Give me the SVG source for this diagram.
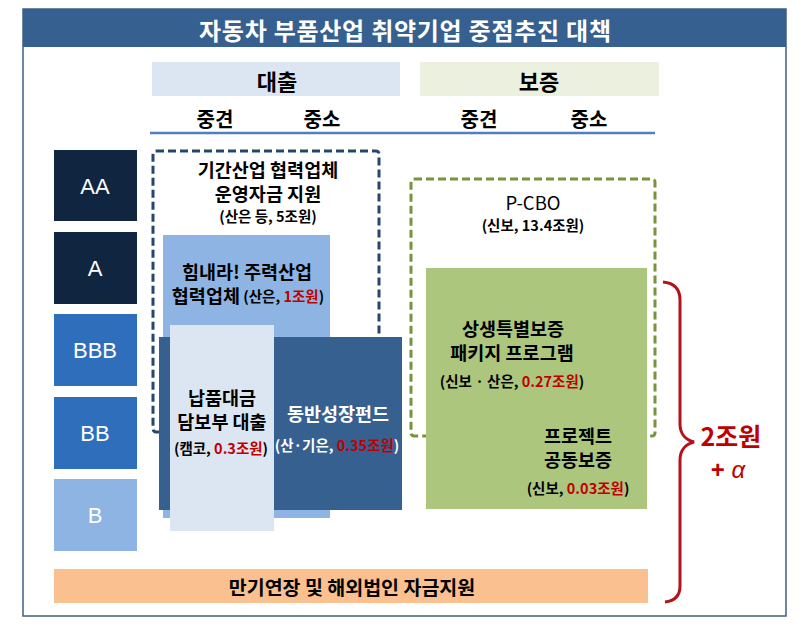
<svg xmlns="http://www.w3.org/2000/svg" width="806" height="638" viewBox="0 0 806 638">
<style>
text{font-family:"Noto Sans CJK KR","Noto Sans",sans-serif;font-weight:bold;text-anchor:middle;dominant-baseline:central;fill:#000}
.m{font-size:18.5px}
.s{font-size:14.5px}
.h{font-size:20px}
.w{fill:#fff}
.r{fill:#c00000}
.lat{font-family:"Liberation Sans",Arial,sans-serif;font-weight:normal;font-size:22px;fill:#fff}
</style>
<rect x="23" y="9" width="763" height="607" fill="#fff" stroke="#3f5f80" stroke-width="1.5"/>
<g id="title">
<rect x="23" y="9" width="763" height="38" fill="#36608f"/>
<text x="405" y="29" class="w" style="font-size:24px" textLength="412" lengthAdjust="spacing">자동차 부품산업 취약기업 중점추진 대책</text>
</g>
<g id="header">
<rect x="152" y="62" width="248" height="34" fill="#dce6f2"/>
<text x="277" y="80" style="font-size:22px">대출</text>
<rect x="420" y="62" width="239" height="34" fill="#ebf1de"/>
<text x="539" y="80" style="font-size:22px">보증</text>
<text x="215" y="118" class="h">중견</text>
<text x="322" y="118" class="h">중소</text>
<text x="479" y="118" class="h">중견</text>
<text x="589" y="118" class="h">중소</text>
<line x1="150" y1="133" x2="655" y2="133" stroke="#4f81bd" stroke-width="2.5"/>
</g>
<g id="ratings">
<g id="r-AA"><rect x="54" y="150" width="83" height="71" fill="#10253f"/><text x="95" y="186" class="lat">AA</text></g>
<g id="r-A"><rect x="54" y="232" width="83" height="72" fill="#10253f"/><text x="95" y="268" class="lat">A</text></g>
<g id="r-BBB"><rect x="54" y="314" width="83" height="72" fill="#2f6eba"/><text x="95" y="350" class="lat">BBB</text></g>
<g id="r-BB"><rect x="54" y="397" width="83" height="72" fill="#2f6eba"/><text x="95" y="433" class="lat">BB</text></g>
<g id="r-B"><rect x="54" y="479" width="83" height="72" fill="#8db4e2"/><text x="95" y="515" class="lat">B</text></g>
</g>
<g id="loan-program">
<rect x="153" y="151" width="226" height="281" rx="3" fill="none" stroke="#27466e" stroke-width="3" stroke-dasharray="8 4"/>
<text x="268" y="169" class="m">기간산업 협력업체</text>
<text x="268" y="193" class="m">운영자금 지원</text>
<text x="268" y="215" class="s">(산은 등, 5조원)</text>
</g>
<g id="himnaera">
<rect x="163" y="235" width="167" height="283" fill="#8db4e2"/>
<text x="247" y="271" class="m">힘내라! 주력산업</text>
<text x="248" y="295"><tspan class="m">협력업체</tspan><tspan class="s"> (산은, </tspan><tspan class="s r">1조원</tspan><tspan class="s">)</tspan></text>
</g>
<g id="fund">
<rect x="159" y="337" width="243" height="173" fill="#36608f"/>
<text x="338" y="413" class="m w">동반성장펀드</text>
<text x="337" y="444" class="s"><tspan class="w">(산·기은, </tspan><tspan class="r">0.35조원</tspan><tspan class="w">)</tspan></text>
</g>
<g id="napum">
<rect x="170" y="325" width="104" height="206" fill="#dce6f2"/>
<text x="222" y="397" class="m">납품대금</text>
<text x="222" y="421" class="m">담보부 대출</text>
<text x="221" y="447" class="s">(캠코, <tspan class="r">0.3조원</tspan>)</text>
</g>
<g id="pcbo">
<rect x="411" y="179" width="244" height="257" rx="3" fill="none" stroke="#77933c" stroke-width="3" stroke-dasharray="8 4"/>
<text x="533" y="202" class="m" style="font-weight:normal">P-CBO</text>
<text x="533" y="224" class="s">(신보, 13.4조원)</text>
</g>
<g id="sangsaeng">
<rect x="426" y="268" width="221" height="241" fill="#acc67e"/>
<text x="513" y="328" class="m">상생특별보증</text>
<text x="512" y="352" class="m">패키지 프로그램</text>
<text x="512" y="380" class="s">(신보 · 산은, <tspan class="r">0.27조원</tspan>)</text>
<text x="578" y="435" class="m">프로젝트</text>
<text x="578" y="459" class="m">공동보증</text>
<text x="578" y="487" class="s">(신보, <tspan class="r">0.03조원</tspan>)</text>
</g>
<g id="extension">
<rect x="54" y="569" width="594" height="34" fill="#fac090"/>
<text x="352" y="586" style="font-size:19.5px">만기연장 및 해외법인 자금지원</text>
</g>
<g id="connectors">
<path d="M663,282 C674,283 680,289 680,300 L680,424 C680,434 686,440 694,442 C686,444 680,450 680,460 L680,586 C680,596 674,601 665,602" fill="none" stroke="#b3121b" stroke-width="3"/>
</g>
<g id="total">
<text x="731" y="435" class="r" style="font-size:25px">2조원</text>
<text x="728" y="469" class="r" style="font-size:24px;font-family:'Liberation Sans',sans-serif">+ <tspan font-style="italic" font-weight="normal">α</tspan></text>
</g>
</svg>
